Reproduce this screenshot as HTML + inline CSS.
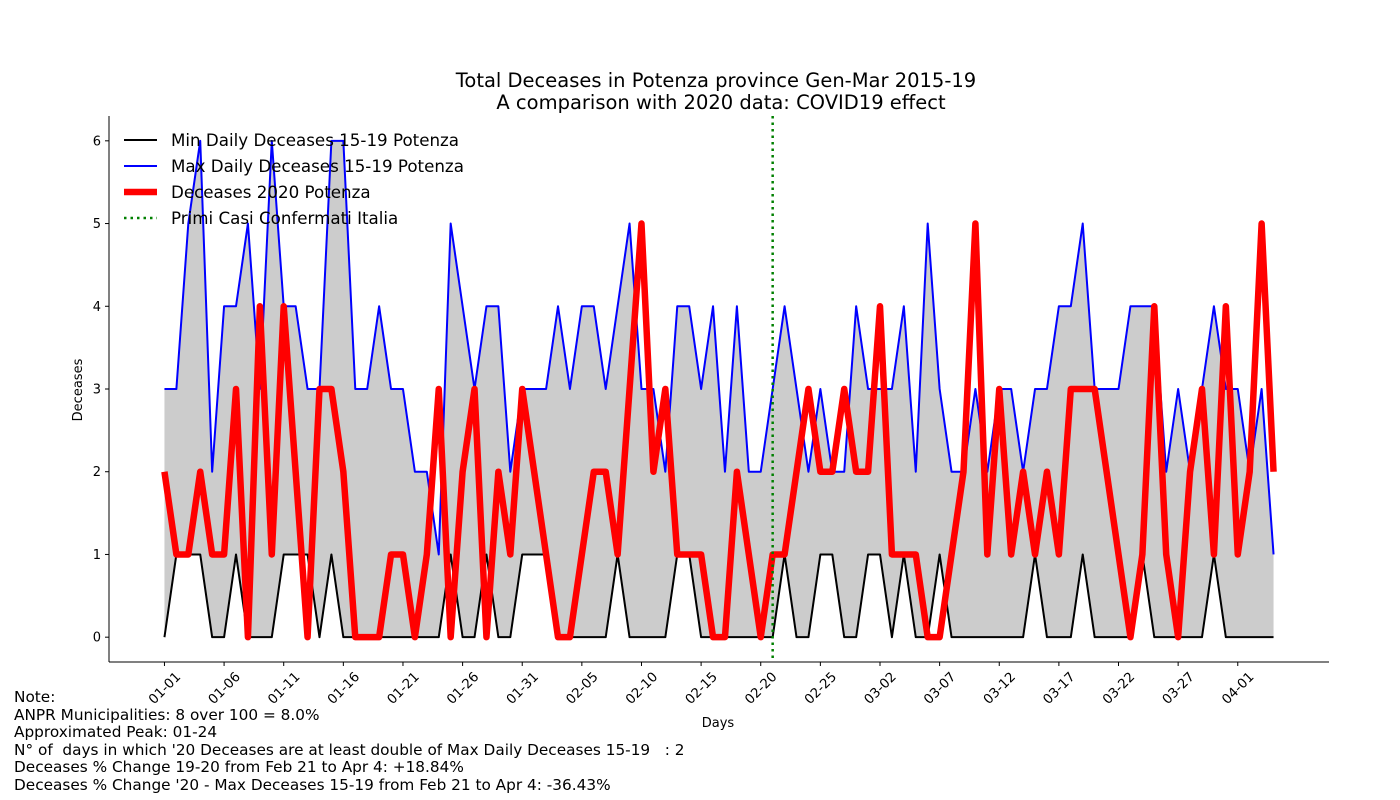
<!DOCTYPE html>
<html><head><meta charset="utf-8">
<style>
html,body{margin:0;padding:0;background:#fff;}
svg{display:block;font-family:"DejaVu Sans","Liberation Sans",sans-serif;}
</style></head>
<body>
<svg id="chart" width="1400" height="800" viewBox="0 0 1400 800" xmlns="http://www.w3.org/2000/svg">
  <rect width="1400" height="800" fill="#fff"/>
  <g font-size="19.5" text-anchor="middle" fill="#000">
    <text x="716" y="87">Total Deceases in Potenza province Gen-Mar 2015-19</text>
    <text x="721" y="109">A comparison with 2020 data: COVID19 effect</text>
  </g>
  <g id="plot"></g>
  <text x="0" y="0" font-size="13" text-anchor="middle" transform="translate(82,390) rotate(-90)">Deceases</text>
  <text x="718" y="727" font-size="13" text-anchor="middle">Days</text>
  <g font-size="16.7">
    <g>
      <line x1="124" y1="140" x2="157" y2="140" stroke="#000" stroke-width="2"/>
      <text x="171" y="146">Min Daily Deceases 15-19 Potenza</text>
    </g>
    <g>
      <line x1="124" y1="166" x2="157" y2="166" stroke="#0000ff" stroke-width="2"/>
      <text x="171" y="172">Max Daily Deceases 15-19 Potenza</text>
    </g>
    <g>
      <line x1="124" y1="192" x2="157" y2="192" stroke="#ff0000" stroke-width="6.5"/>
      <text x="171" y="198">Deceases 2020 Potenza</text>
    </g>
    <g>
      <line x1="124" y1="218" x2="157" y2="218" stroke="#008000" stroke-width="2.5" stroke-dasharray="2.5,4"/>
      <text x="171" y="224">Primi Casi Confermati Italia</text>
    </g>
  </g>
  <g font-size="15.3" fill="#000">
    <text x="14" y="702">Note:</text>
    <text x="14" y="720">ANPR Municipalities: 8 over 100 = 8.0%</text>
    <text x="14" y="737">Approximated Peak: 01-24</text>
    <text x="14" y="755" xml:space="preserve">N° of  days in which '20 Deceases are at least double of Max Daily Deceases 15-19   : 2</text>
    <text x="14" y="772">Deceases % Change 19-20 from Feb 21 to Apr 4: +18.84%</text>
    <text x="14" y="790">Deceases % Change '20 - Max Deceases 15-19 from Feb 21 to Apr 4: -36.43%</text>
  </g>
</svg>
<script>
const maxVals = [3,3,5,6,2,4,4,5,3,6, 4,4,3,3,6,6,3,3,4,3, 3,2,2,1,5,4,3,4,4,2, 3,3,3,4,3,4,4,3,4,5, 3,3,2,4,4,3,4,2,4,2, 2,3,4,3,2,3,2,2,4,3, 3,3,4,2,5,3,2,2,3,2, 3,3,2,3,3,4,4,5,3,3, 3,4,4,4,2,3,2,3,4,3, 3,2,3,1];
const minVals = [0,1,1,1,0,0,1,0,0,0, 1,1,1,0,1,0,0,0,0,0, 0,0,0,0,1,0,0,1,0,0, 1,1,1,0,0,0,0,0,1,0, 0,0,0,1,1,0,0,0,0,0, 0,0,1,0,0,1,1,0,0,1, 1,0,1,0,0,1,0,0,0,0, 0,0,0,1,0,0,0,1,0,0, 0,0,1,0,0,0,0,0,1,0, 0,0,0,0];
const vals2020 = [2,1,1,2,1,1,3,0,4,1, 4,2,0,3,3,2,0,0,0,1, 1,0,1,3,0,2,3,0,2,1, 3,2,1,0,0,1,2,2,1,3, 5,2,3,1,1,1,0,0,2,1, 0,1,1,2,3,2,2,3,2,2, 4,1,1,1,0,0,1,2,5,1, 3,1,2,1,2,1,3,3,3,2, 1,0,1,4,1,0,2,3,1,4, 1,2,5,2];
const xTickLabels = ["01-01","01-06","01-11","01-16","01-21","01-26","01-31","02-05","02-10","02-15","02-20","02-25","03-02","03-07","03-12","03-17","03-22","03-27","04-01"];
const yTickLabels = ["0","1","2","3","4","5","6"];
const firstCasesDay = 51;

const NS = "http://www.w3.org/2000/svg";
const L = 109, R = 1329, T = 116, B = 662;
const n = maxVals.length;
const xMin = -0.05*(n-1), xMax = (n-1)*1.05;
const yMin = -0.3, yMax = 6.3;
function xs(i){ return L + (i - xMin)/(xMax - xMin)*(R - L); }
function ys(v){ return B - (v - yMin)/(yMax - yMin)*(B - T); }
const plot = document.getElementById('plot');
function mk(tag, attrs){ const e = document.createElementNS(NS, tag); for (const k in attrs) e.setAttribute(k, attrs[k]); plot.appendChild(e); return e; }

let d = "";
for (let i=0;i<n;i++) d += (i?"L":"M")+xs(i).toFixed(2)+","+ys(maxVals[i]).toFixed(2);
for (let i=n-1;i>=0;i--) d += "L"+xs(i).toFixed(2)+","+ys(minVals[i]).toFixed(2);
const band = mk('path', {d: d+"Z", fill:"#cccccc", stroke:"none"});



function linePath(arr){ let p=""; for (let i=0;i<arr.length;i++) p += (i?"L":"M")+xs(i).toFixed(2)+","+ys(arr[i]).toFixed(2); return p; }
const minLine = mk('path', {d: linePath(minVals), fill:"none", stroke:"#000", "stroke-width":2, "stroke-linejoin":"round"});


const maxLine = mk('path', {d: linePath(maxVals), fill:"none", stroke:"#0000ff", "stroke-width":2, "stroke-linejoin":"round"});


const redLine = mk('path', {d: linePath(vals2020), fill:"none", stroke:"#ff0000", "stroke-width":6.5, "stroke-linejoin":"round"});


const vline = mk('line', {x1: xs(firstCasesDay), x2: xs(firstCasesDay), y1: T, y2: B, stroke:"#008000", "stroke-width":2.5, "stroke-dasharray":"2.5,4"});



const ly = mk('line', {x1:L, x2:L, y1:T, y2:B, stroke:"#000", "stroke-width":1});


const lx = mk('line', {x1:L, x2:R, y1:B, y2:B, stroke:"#000", "stroke-width":1});



yTickLabels.forEach((lab, k) => {
  const y = ys(+lab);
  const t = mk('line', {x1:L-4, x2:L, y1:y, y2:y, stroke:"#000", "stroke-width":1});
  
  
  const tx = mk('text', {x:L-8, y:y+4.5, "font-size":13, "text-anchor":"end"});
  tx.textContent = lab;
  
  
});
xTickLabels.forEach((lab, k) => {
  const x = xs(k*5);
  const t = mk('line', {x1:x, x2:x, y1:B, y2:B+4, stroke:"#000", "stroke-width":1});
  
  
  const tx = mk('text', {x:0, y:4.5, "font-size":13.3, "text-anchor":"middle", transform:"translate("+x.toFixed(2)+",688) rotate(-45)"});
  tx.textContent = lab;
  
  
});
</script>
</body></html>
